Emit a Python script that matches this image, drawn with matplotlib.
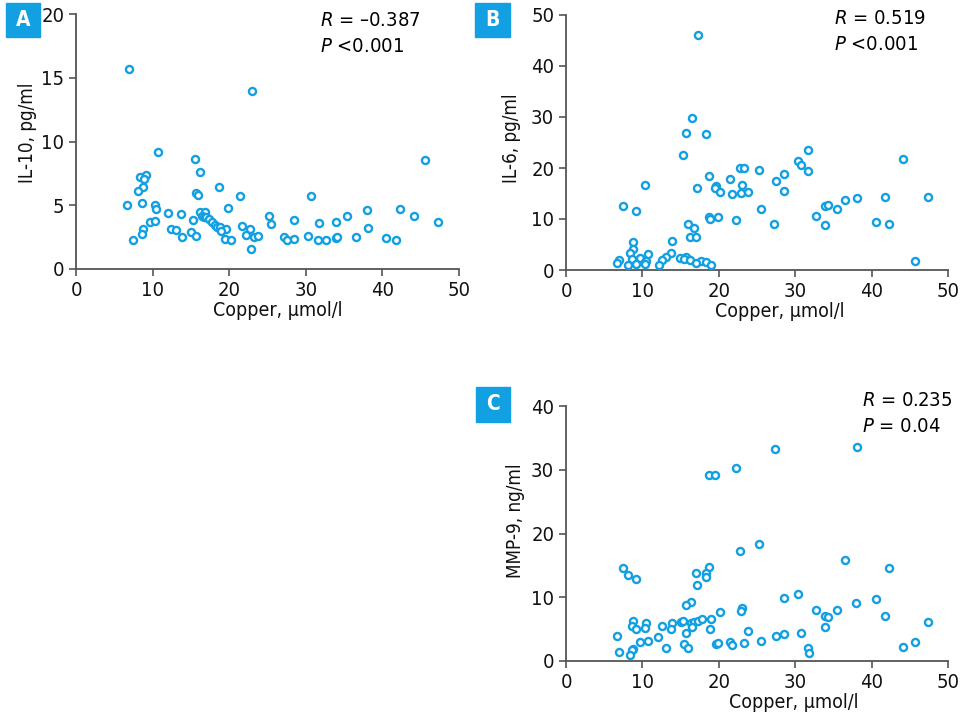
import matplotlib
matplotlib.use('Agg')
import matplotlib.pyplot as plt
from matplotlib.patches import Rectangle

# Copper vs IL-10 (panel A)
cu_a = [6.88, 23.0, 10.71, 15.5, 45.6, 16.2, 8.36, 9.19, 8.84, 8.71, 18.64, 8.06, 15.64, 15.98,
        21.38, 30.66, 6.66, 8.67, 10.28, 10.45, 19.9, 12.06, 13.76, 16.25, 16.9, 16.4, 16.7, 17.0,
        17.3, 17.7, 18.1, 18.4, 18.8, 37.98, 42.25, 44.08, 35.37, 25.2, 25.5, 28.5, 31.7, 33.9,
        47.3, 15.3, 9.63, 10.32, 21.65, 38.07, 8.75, 8.67, 12.46, 13.07, 15.03, 15.72, 13.85, 7.4,
        19.56, 18.99, 19.43, 20.17, 22.73, 22.2, 23.2, 23.74, 22.9, 27.2, 27.5, 28.5, 30.35, 31.6,
        32.7, 33.9, 34.1, 36.5, 40.5, 41.8]
il10 = [15.65, 13.93, 9.19, 8.59, 8.53, 7.57, 7.23, 7.36, 7.09, 6.47, 6.47, 6.1, 6.0, 5.79,
        5.76, 5.71, 5.0, 5.16, 5.05, 4.69, 4.79, 4.37, 4.29, 4.45, 4.45, 4.16, 4.1, 4.06,
        3.93, 3.66, 3.43, 3.3, 3.27, 4.63, 4.69, 4.16, 4.16, 4.16, 3.51, 3.82, 3.61, 3.66,
        3.66, 3.87, 3.69, 3.74, 3.38, 3.19, 3.14, 2.72, 3.12, 3.06, 2.88, 2.57, 2.49, 2.28,
        3.17, 2.96, 2.36, 2.3, 3.14, 2.67, 2.49, 2.62, 1.6, 2.49, 2.28, 2.36, 2.62, 2.3,
        2.3, 2.41, 2.54, 2.51, 2.41, 2.28]

# Copper vs IL-6 (panel B)
cu_b = [17.28, 16.45, 15.75, 18.32, 15.27, 31.63, 44.1, 30.37, 30.76, 22.73, 23.3, 25.2, 31.72,
        28.53, 18.76, 21.42, 27.53, 10.34, 23.08, 19.59, 19.46, 17.1, 20.2, 21.68, 22.95, 23.78,
        28.53, 47.34, 41.8, 38.05, 36.56, 33.9, 34.25, 7.42, 25.48, 35.43, 9.2, 32.72, 18.67,
        18.85, 19.94, 22.25, 27.27, 33.94, 40.58, 42.32, 16.01, 16.75, 16.27, 17.06, 8.73, 13.92,
        8.77, 8.38, 10.78, 13.79, 9.69, 14.97, 15.66, 15.49, 13.05, 12.52, 8.68, 16.23, 17.71,
        18.28, 17.06, 19.02, 6.9, 6.68, 8.07, 12.13, 9.16, 10.34, 10.47, 10.3, 45.73]
il6 = [46.07, 29.78, 26.9, 26.57, 22.64, 23.5, 21.86, 21.47, 20.55, 20.03, 19.96, 19.7, 19.37,
       18.91, 18.46, 17.87, 17.54, 16.62, 16.62, 16.43, 16.03, 16.16, 15.25, 14.99, 15.05, 15.25,
       15.45, 14.4, 14.33, 14.07, 13.81, 12.63, 12.83, 12.63, 11.91, 12.04, 11.58, 10.67, 10.47,
       10.08, 10.34, 9.75, 9.03, 8.9, 9.36, 8.97, 9.1, 8.25, 6.54, 6.54, 5.56, 5.76,
       4.06, 3.34, 3.14, 3.27, 2.36, 2.36, 2.55, 2.09, 2.49, 1.96, 2.16, 1.9, 1.7,
       1.57, 1.37, 1.05, 1.9, 1.37, 0.92, 1.05, 1.11, 1.5, 1.77, 1.11, 1.7]

# Copper vs MMP-9 (panel C)
cu_c = [38.09, 27.31, 22.25, 18.72, 19.46, 25.22, 22.77, 36.56, 7.42, 42.32, 18.72, 18.32, 17.02,
        18.28, 8.12, 9.21, 17.1, 30.37, 28.49, 40.62, 38.0, 16.32, 15.75, 23.04, 22.95, 20.2,
        32.72, 35.43, 33.94, 34.25, 41.8, 8.77, 10.47, 13.92, 15.1, 15.31, 16.32, 16.71, 17.28,
        17.76, 19.02, 47.34, 8.68, 12.52, 10.34, 9.16, 13.79, 16.45, 33.94, 18.85, 15.66, 23.78,
        30.76, 6.68, 27.53, 28.53, 12.09, 9.73, 10.78, 25.48, 23.3, 21.42, 21.68, 19.59, 19.94,
        15.49, 16.01, 13.09, 31.63, 31.76, 44.1, 45.73, 8.77, 8.64, 6.9, 8.42]
mmp9 = [33.6, 33.29, 30.3, 29.1, 29.15, 18.3, 17.3, 15.78, 14.63, 14.52, 14.68, 13.84, 13.74,
        13.21, 13.42, 12.79, 11.85, 10.54, 9.86, 9.75, 9.17, 9.28, 8.86, 8.28, 7.92, 7.71,
        7.97, 7.97, 7.13, 6.92, 7.13, 6.29, 5.92, 6.03, 6.19, 6.29, 6.03, 6.19, 6.29,
        6.55, 6.6, 6.13, 5.5, 5.45, 5.14, 4.98, 5.09, 5.35, 5.35, 5.09, 4.46, 4.77,
        4.4, 3.93, 3.93, 4.25, 3.77, 2.99, 3.15, 3.09, 2.88, 2.99, 2.52, 2.73, 2.83,
        2.73, 2.1, 2.1, 2.1, 1.26, 2.15, 2.94, 1.94, 1.78, 1.36, 1.0]

blue = '#12a0e2'
axcol = '#555555'
W, H = 961, 722

plt.rcParams['font.family'] = ['DejaVu Sans']
plt.rcParams['font.stretch'] = 'condensed'
plt.rcParams['mathtext.fontset'] = 'custom'
plt.rcParams['mathtext.it'] = 'DejaVu Sans:italic:stretch=condensed'
plt.rcParams['mathtext.rm'] = 'DejaVu Sans:stretch=condensed'

fig = plt.figure(figsize=(W / 100, H / 100), dpi=100)


def px_axes(l, t, r, b):
    return fig.add_axes([l / W, 1 - b / H, (r - l) / W, (b - t) / H])


def style(ax, ymax, ystep, ylabel, xlab_x, ylab_xy):
    ax.set_xlim(0, 50)
    ax.set_ylim(0, ymax)
    ax.set_xticks(range(0, 51, 10))
    ax.set_yticks(range(0, ymax + 1, ystep))
    for s in ['top', 'right']:
        ax.spines[s].set_visible(False)
    for s in ['left', 'bottom']:
        ax.spines[s].set_color(axcol)
        ax.spines[s].set_linewidth(1.3)
    ax.tick_params(colors=axcol, labelcolor='#111111', labelsize=14.5, length=5, width=1.2)
    ax.set_xlabel('Copper, µmol/l', fontsize=14, color='#111111', labelpad=1)
    ax.xaxis.label.set_x(xlab_x)
    ax.set_ylabel(ylabel, fontsize=13.5, color='#111111')
    ax.yaxis.set_label_coords(*ylab_xy)
    ax.patch.set_alpha(0)


def scat(ax, x, y):
    ax.scatter(x, y, s=26, facecolors='white', edgecolors=blue, linewidths=1.7,
               clip_on=False, zorder=3)


def tag(l, t, r, b, letter):
    fig.patches.append(Rectangle((l / W, 1 - b / H), (r - l) / W, (b - t) / H,
                                 transform=fig.transFigure, color=blue))
    fig.text((l + r) / 2 / W, 1 - (t + b) / 2 / H, letter, color='white',
             fontsize=15, fontweight='bold', ha='center', va='center')


def stats(x, y, r_txt, p_txt):
    fig.text(x / W, 1 - y / H, r_txt, fontsize=14.5, ha='left', va='center')
    fig.text(x / W, 1 - (y + 26) / H, p_txt, fontsize=14.5, ha='left', va='center')


ax_a = px_axes(76, 14, 459, 269)
scat(ax_a, cu_a, il10)
style(ax_a, 20, 5, 'IL-10, pg/ml', 0.527, (-0.102, 0.533))

ax_b = px_axes(566, 15, 948, 270)
scat(ax_b, cu_b, il6)
style(ax_b, 50, 10, 'IL-6, pg/ml', 0.56, (-0.118, 0.518))

ax_c = px_axes(566, 406, 948, 661)
scat(ax_c, cu_c, mmp9)
style(ax_c, 40, 10, 'MMP-9, ng/ml', 0.597, (-0.107, 0.549))

tag(6, 3, 40, 37, 'A')
tag(475, 3, 510, 37, 'B')
tag(476, 387, 510, 422, 'C')

stats(320, 21, '$\\mathit{R}$ = \u20130.387', '$\\mathit{P}$ <0.001')
stats(834, 18, '$\\mathit{R}$ = 0.519', '$\\mathit{P}$ <0.001')
stats(862, 401, '$\\mathit{R}$ = 0.235', '$\\mathit{P}$ = 0.04')

fig.savefig('out.png', dpi=100)
